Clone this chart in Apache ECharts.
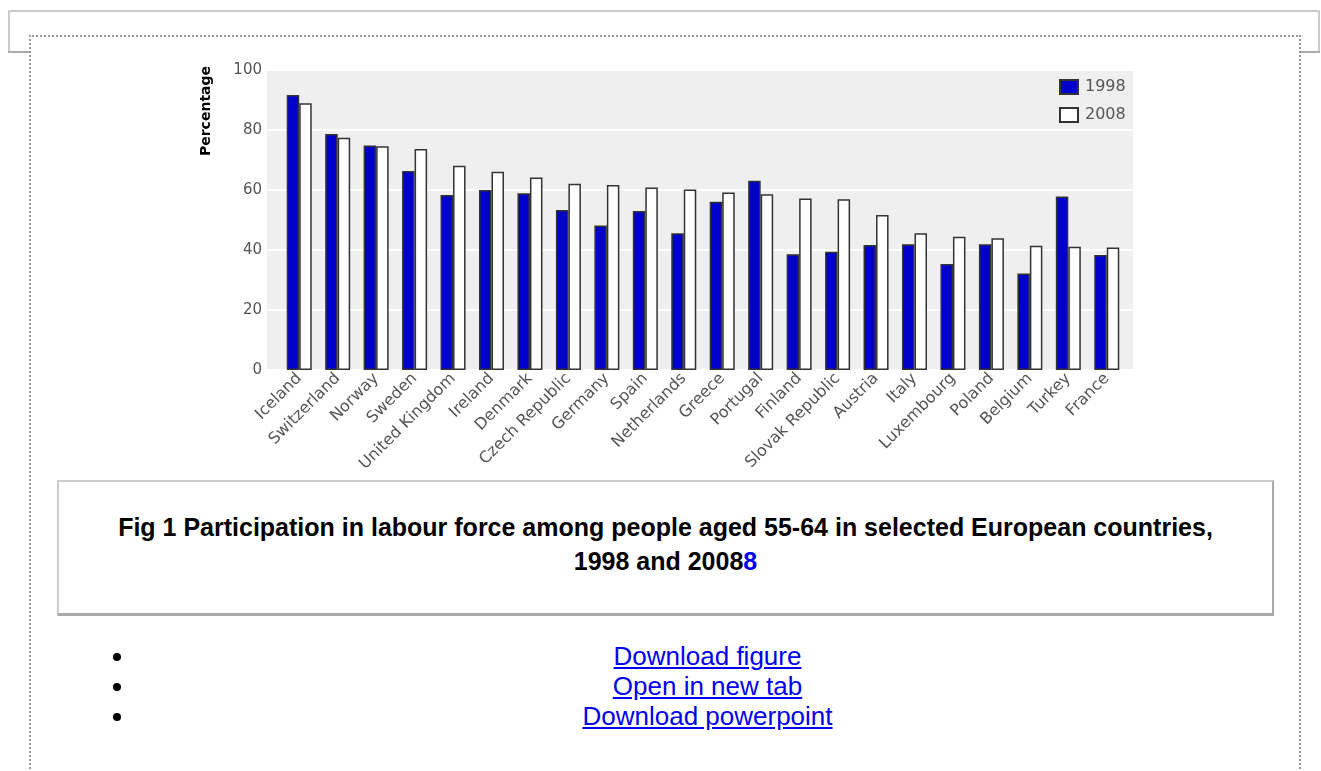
<!DOCTYPE html>
<html>
<head>
<meta charset="utf-8">
<script src="https://cdn.jsdelivr.net/npm/echarts@6/dist/echarts.min.js"></script>
<style>
  html, body { margin: 0; padding: 0; background: #fff; width: 1321px; height: 771px; overflow: hidden; position: relative; }
  .ln { position: absolute; }
  #frameTop { left: 8px; top: 10px; width: 1312px; height: 2px; background: #cccccc; }
  #frameL { left: 8px; top: 10px; width: 2px; height: 43px; background: #cccccc; }
  #frameLB { left: 8px; top: 51px; width: 22px; height: 2px; background: #aaaaaa; }
  #frameR { left: 1318px; top: 10px; width: 2px; height: 43px; background: #cccccc; }
  #frameRB { left: 1301px; top: 51px; width: 19px; height: 2px; background: #aaaaaa; }
  #dotted { position: absolute; left: 29px; top: 35px; width: 1268px; height: 800px; border: 2px dotted #999; border-bottom: none; }
  #chart { position: absolute; left: 0; top: 0; width: 1321px; height: 480px; }
  #caption { position: absolute; left: 57px; top: 480px; width: 1217px; height: 136px; box-sizing: border-box;
    border: 2px solid #cccccc; border-bottom: 3px solid #aaaaaa; border-right: 2px solid #aaaaaa; background: #fff;
    font: bold 25px "Liberation Sans", Arial, sans-serif; line-height: 34px; text-align: center; padding-top: 28px; color: #000; }
  #caption span { color: #0000ee; }
  #links { position: absolute; left: 136px; top: 641px; width: 1143px; margin: 0; padding: 0; list-style: disc;
    font: 26px "Liberation Sans", Arial, sans-serif; line-height: 30px; text-align: center; }
  #links a { color: #0000ee; text-decoration: underline; }
</style>
</head>
<body>
<div id="frameTop" class="ln"></div>
<div id="frameL" class="ln"></div>
<div id="frameLB" class="ln"></div>
<div id="frameR" class="ln"></div>
<div id="frameRB" class="ln"></div>
<div id="dotted"></div>
<div id="chart"></div>
<div id="caption">Fig 1 Participation in labour force among people aged 55-64 in selected European countries,<br>1998 and 2008<span>8</span></div>
<ul id="links">
  <li><a href="#">Download figure</a></li>
  <li><a href="#">Open in new tab</a></li>
  <li><a href="#">Download powerpoint</a></li>
</ul>
<script>
const categories = ["Iceland","Switzerland","Norway","Sweden","United Kingdom","Ireland","Denmark","Czech Republic","Germany","Spain","Netherlands","Greece","Portugal","Finland","Slovak Republic","Austria","Italy","Luxembourg","Poland","Belgium","Turkey","France"];
const values1998 = [91.7,78.7,74.8,66.3,58.3,60.0,58.9,53.3,48.2,53.0,45.6,56.1,63.1,38.6,39.4,41.7,41.9,35.3,41.9,32.2,57.8,38.3];
const values2008 = [88.9,77.4,74.6,73.7,68.1,66.1,64.2,62.1,61.7,60.8,60.2,59.2,58.6,57.2,56.9,51.7,45.6,44.4,43.9,41.4,41.1,40.8];
const seriesNames = ["1998","2008"];
const yTitle = "Percentage";

const chart = echarts.init(document.getElementById('chart'), null, {renderer: 'canvas'});
const labelFont = '"DejaVu Sans", Verdana, sans-serif';
chart.setOption({
  animation: false,
  backgroundColor: 'transparent',
  grid: [
    {left: 267, top: 70, width: 866, height: 300, show: true, backgroundColor: '#efefef', borderWidth: 0},
    {left: 280, top: 70, width: 846, height: 300}
  ],
  xAxis: [
    {gridIndex: 0, type: 'category', data: [''], show: false},
    {gridIndex: 1, type: 'category', data: categories,
     axisLine: {show: false}, axisTick: {show: false},
     axisLabel: {interval: 0, rotate: 45, color: '#555', fontSize: 16, fontFamily: labelFont, margin: 6}}
  ],
  yAxis: [
    {gridIndex: 0, type: 'value', min: 0, max: 100, interval: 20,
     axisLine: {show: false}, axisTick: {show: false},
     axisLabel: {color: '#555', fontSize: 15, fontFamily: labelFont, margin: 5},
     splitLine: {show: true, lineStyle: {color: '#ffffff', width: 2}}},
    {gridIndex: 1, type: 'value', min: 0, max: 100, interval: 20, show: false, splitLine: {show: false}}
  ],
  legend: {
    orient: 'vertical', left: 1054, top: 74, itemWidth: 18, itemHeight: 14, itemGap: 12,
    icon: 'rect', data: seriesNames,
    textStyle: {color: '#555', fontSize: 16, fontFamily: labelFont, padding: [0,0,0,2]}
  },
  graphic: [{
    type: 'text', x: 206, y: 111, rotation: Math.PI / 2,
    style: {text: yTitle, fill: '#000', font: 'bold 14px "DejaVu Sans", Verdana, sans-serif', textAlign: 'center', textVerticalAlign: 'middle'}
  }],
  series: [
    {name: seriesNames[0], type: 'bar', xAxisIndex: 1, yAxisIndex: 1, data: values1998, barWidth: 12.5, barGap: '0%',
     itemStyle: {color: '#0000cc', borderColor: '#333', borderWidth: 1.5}},
    {name: seriesNames[1], type: 'bar', xAxisIndex: 1, yAxisIndex: 1, data: values2008, barWidth: 12.5, barGap: '0%',
     itemStyle: {color: '#ffffff', borderColor: '#333', borderWidth: 1.5}}
  ]
});
</script>
</body>
</html>
